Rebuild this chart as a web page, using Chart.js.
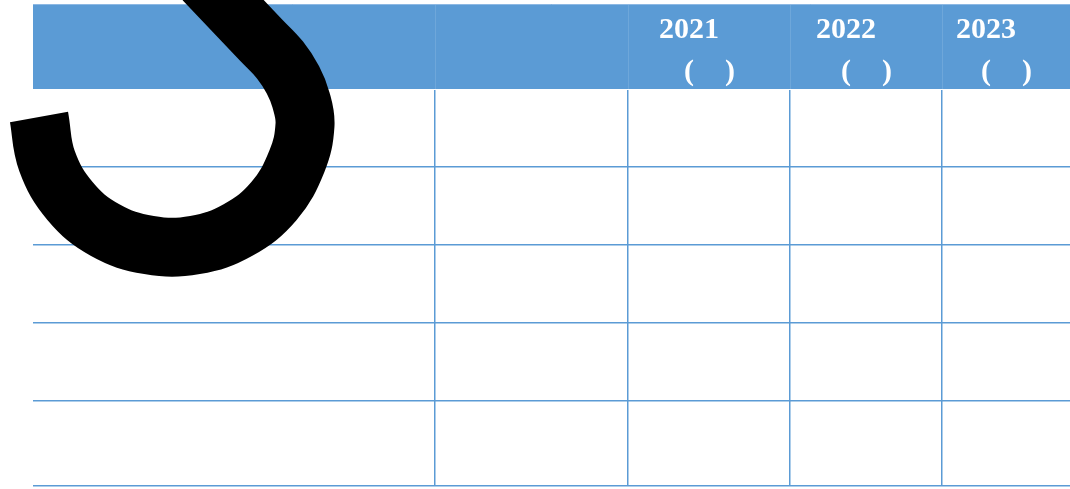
<!DOCTYPE html>
<html>
<head>
<meta charset="utf-8">
<script src="https://cdn.jsdelivr.net/npm/chart.js@4.4.0/dist/chart.umd.min.js"></script>
<style>
  html, body { margin: 0; padding: 0; background: #fff; overflow: hidden; }
</style>
</head>
<body>
<canvas id="chart" width="1070" height="489"></canvas>
<script>
// header labels (the unit text between the brackets did not render in the source)
var years = ['2021', '2022', '2023'];
var unitOpen = '(';
var unitClose = ')';

// table column and row boundaries
var colEdges = [33, 435, 628, 790, 942, 1070];
var rowEdges = [90, 167, 245, 323, 401, 486];

// the black hook stroke
var hookX = [39, 47, 70, 105, 149, 195, 238, 274, 297, 305, 301, 293, 280, 261, 242, 223, 204];
var hookY = [117, 161, 201, 230, 245, 245, 230, 201, 161, 125, 100, 80, 60, 40, 20, 0, -20];

var blue = '#5B9BD5';

var hookPoints = hookX.map(function (x, i) { return { x: x, y: hookY[i] }; });

var headerPlugin = {
    id: 'header',
    beforeDatasetsDraw: function (chart) {
        var ctx = chart.ctx;
        var xs = chart.scales.x;
        var left = xs.getPixelForValue(colEdges[0]);
        var right = xs.getPixelForValue(colEdges[colEdges.length - 1]);
        ctx.save();
        ctx.fillStyle = blue;
        ctx.fillRect(left, 4, right - left, 85);
        ctx.strokeStyle = '#8DB8E3';
        ctx.lineWidth = 1;
        ctx.beginPath();
        ctx.moveTo(left, 4.5);
        ctx.lineTo(right, 4.5);
        ctx.stroke();
        // faint column separators inside the header
        ctx.strokeStyle = 'rgba(255,255,255,0.12)';
        for (var c = 1; c < colEdges.length - 1; c++) {
            var px = Math.round(xs.getPixelForValue(colEdges[c])) + 0.5;
            ctx.beginPath();
            ctx.moveTo(px, 5);
            ctx.lineTo(px, 89);
            ctx.stroke();
        }
        ctx.fillStyle = '#fff';
        ctx.font = 'bold 30px "Liberation Serif", "Times New Roman", serif';
        ctx.textBaseline = 'alphabetic';
        ctx.textAlign = 'center';
        for (var i = 0; i < years.length; i++) {
            var cx = (xs.getPixelForValue(colEdges[i + 2]) + xs.getPixelForValue(colEdges[i + 3])) / 2;
            ctx.fillText(years[i], cx - 20, 38);
            ctx.fillText(unitOpen, cx - 20, 80);
            ctx.fillText(unitClose, cx + 21, 80);
        }
        ctx.restore();
    }
};

var chart = new Chart(document.getElementById('chart'), {
    type: 'line',
    data: {
        datasets: [{
            data: hookPoints,
            borderColor: '#000',
            backgroundColor: '#000',
            borderWidth: 59,
            borderCapStyle: 'butt',
            borderJoinStyle: 'round',
            tension: 0.4,
            capBezierPoints: false,
            pointRadius: 0,
            pointHoverRadius: 0,
            fill: false,
            clip: false
        }]
    },
    options: {
        responsive: false,
        animation: false,
        events: [],
        layout: { padding: { left: 33, top: 90, right: 0, bottom: 3 } },
        plugins: {
            legend: { display: false },
            tooltip: { enabled: false }
        },
        scales: {
            x: {
                type: 'linear',
                min: colEdges[0],
                max: colEdges[colEdges.length - 1],
                afterBuildTicks: function (scale) {
                    scale.ticks = colEdges.map(function (v) { return { value: v }; });
                },
                ticks: { display: false },
                border: { display: false },
                grid: {
                    drawTicks: false,
                    lineWidth: 1.5,
                    color: function (ctx) {
                        var v = ctx.tick && ctx.tick.value;
                        return (v === colEdges[0] || v === colEdges[colEdges.length - 1]) ? 'rgba(0,0,0,0)' : blue;
                    }
                }
            },
            y: {
                type: 'linear',
                reverse: true,
                min: rowEdges[0],
                max: rowEdges[rowEdges.length - 1],
                afterBuildTicks: function (scale) {
                    scale.ticks = rowEdges.map(function (v) { return { value: v }; });
                },
                ticks: { display: false },
                border: { display: false },
                grid: {
                    drawTicks: false,
                    lineWidth: 1.5,
                    color: function (ctx) {
                        var v = ctx.tick && ctx.tick.value;
                        return v === rowEdges[0] ? 'rgba(0,0,0,0)' : blue;
                    }
                }
            }
        }
    },
    plugins: [headerPlugin]
});
</script>
</body>
</html>
